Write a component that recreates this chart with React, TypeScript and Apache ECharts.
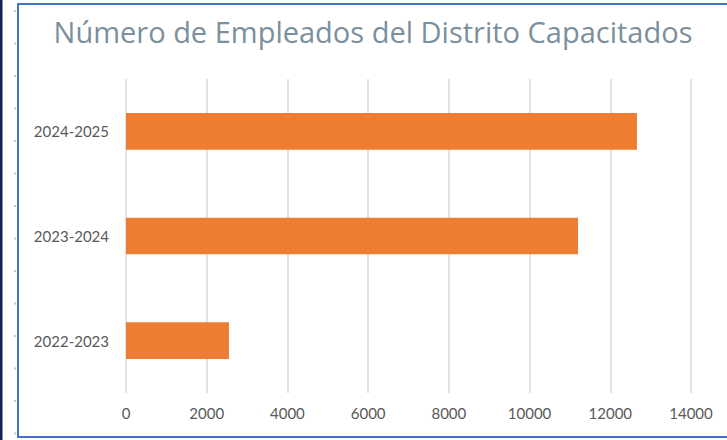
import React, { useEffect, useRef } from "react";
import * as echarts from "echarts";

const categories = ["2022-2023", "2023-2024", "2024-2025"];
const values = [2550, 11200, 12660];
const xTicks = { min: 0, max: 14000, interval: 2000 };
const titleText = "Número de Empleados del Distrito Capacitados";

export default function App() {
  const ref = useRef<HTMLDivElement>(null);
  useEffect(() => {
    if (!ref.current) return;
    const chart = echarts.init(ref.current, null, { renderer: "svg" });
    const tickMarks: any[] = [];
    for (let i = 0; i < 14; i++) {
      tickMarks.push({
        type: "rect",
        shape: { x: 14, y: 10 + i * 32.5, width: 2, height: 2 },
        style: { fill: "#c8c8c8" },
        silent: true,
      });
    }
    chart.setOption({
      animation: false,
      backgroundColor: "#ffffff",
      title: {
        text: titleText,
        left: 368,
        textAlign: "center",
        top: 12,
        textStyle: {
          fontFamily: "Open Sans",
          fontSize: 29,
          fontWeight: "normal",
          color: "#7b909c",
        },
      },
      graphic: [
        {
          type: "rect",
          shape: { x: 0, y: 0, width: 2.5, height: 440 },
          style: { fill: "#0d2450" },
          silent: true,
        },
        ...tickMarks,
        {
          type: "rect",
          shape: { x: 18, y: 4, width: 720, height: 433 },
          style: { fill: "none", stroke: "#4472c4", lineWidth: 2 },
          silent: true,
          z: 100,
        },
      ],
      grid: { left: 126, right: 36, top: 79, bottom: 47 },
      xAxis: {
        type: "value",
        min: xTicks.min,
        max: xTicks.max,
        interval: xTicks.interval,
        axisLine: { show: false },
        axisTick: { show: false },
        splitLine: { lineStyle: { color: "#d9d9d9", width: 1.5 } },
        axisLabel: {
          margin: 12,
          fontFamily: "Lato",
          fontSize: 15,
          color: "#595959",
          formatter: (v: number) => String(v),
        },
      },
      yAxis: {
        type: "category",
        data: categories,
        axisLine: { show: false },
        axisTick: { show: false },
        axisLabel: {
          margin: 17,
          fontFamily: "Lato",
          fontSize: 15,
          color: "#595959",
        },
      },
      series: [
        {
          type: "bar",
          data: values,
          barWidth: "35%",
          itemStyle: { color: "#ed7d31" },
        },
      ],
    });
    return () => chart.dispose();
  }, []);
  return (
    <div
      ref={ref}
      style={{ position: "fixed", left: 0, top: 0, width: 727, height: 440 }}
    />
  );
}
